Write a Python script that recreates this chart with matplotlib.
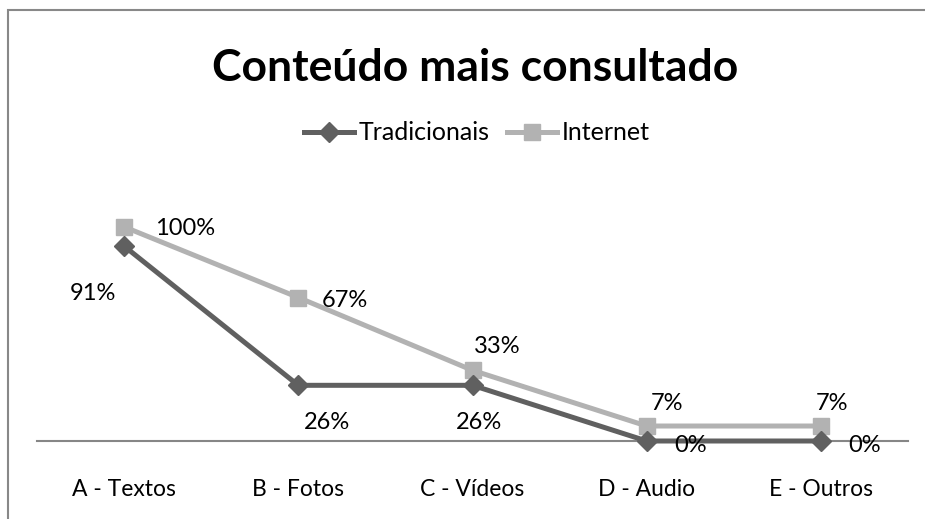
import matplotlib.pyplot as plt
from matplotlib.lines import Line2D
from matplotlib.patches import Rectangle

plt.rcParams['font.family'] = ['Lato', 'DejaVu Sans']

categories = ['A - Textos', 'B - Fotos', 'C - Vídeos', 'D - Audio', 'E - Outros']
tradicionais = [91, 26, 26, 0, 0]
internet = [100, 67, 33, 7, 7]

# label offsets in pixels (dx, dy)
off_trad = [(-31, -47), (29, -37), (6, -37), (44, -5), (44, -5)]
off_net = [(61, -2), (47, -3), (25, 24), (20, 23), (11, 23)]

c_trad = '#606060'
c_net = '#b2b2b2'

fig = plt.figure(figsize=(9.25, 5.19), dpi=100)
W, H = 925, 519
ax = fig.add_axes([37 / W, 1 - 441 / H, 871 / W, 257 / H])

x = range(len(categories))
ax.plot(x, tradicionais, color=c_trad, lw=3.6, marker='D', ms=10,
        clip_on=False, zorder=3, label='Tradicionais')
ax.plot(x, internet, color=c_net, lw=3.6, marker='s', ms=12,
        clip_on=False, zorder=2, label='Internet')

for i in x:
    ax.annotate(f'{tradicionais[i]}%', (i, tradicionais[i]), xytext=off_trad[i],
                textcoords='offset pixels', ha='center', va='center', fontsize=17)
    ax.annotate(f'{internet[i]}%', (i, internet[i]), xytext=off_net[i],
                textcoords='offset pixels', ha='center', va='center', fontsize=17)

ax.set_xlim(-0.5, 4.5)
ax.set_ylim(0, 120)
ax.set_xticks(list(x))
ax.set_xticklabels(categories, fontsize=16.5)
ax.tick_params(axis='x', length=0, pad=27)
ax.set_yticks([])
for s in ['top', 'right', 'left']:
    ax.spines[s].set_visible(False)
ax.spines['bottom'].set_color('#868686')
ax.spines['bottom'].set_linewidth(1.5)

fig.text(475 / W, 1 - 68 / H, 'Conteúdo mais consultado', ha='center', va='center',
         fontsize=32, fontweight='bold')

handles = [Line2D([], [], color=c_trad, lw=3.6, marker='D', ms=10),
           Line2D([], [], color=c_net, lw=3.6, marker='s', ms=12)]
fig.legend(handles, ['Tradicionais', 'Internet'], loc='center',
           bbox_to_anchor=(477 / W, 1 - 133 / H), ncol=2, frameon=False,
           fontsize=18, handlelength=2.0, handletextpad=0.2, columnspacing=0.7)

fig.patches.append(Rectangle((8 / W, -0.1), 1.2, 1 - 10 / H + 0.1, transform=fig.transFigure,
                             fill=False, edgecolor='#888888', lw=1.5))

fig.savefig('out.png', dpi=100)
